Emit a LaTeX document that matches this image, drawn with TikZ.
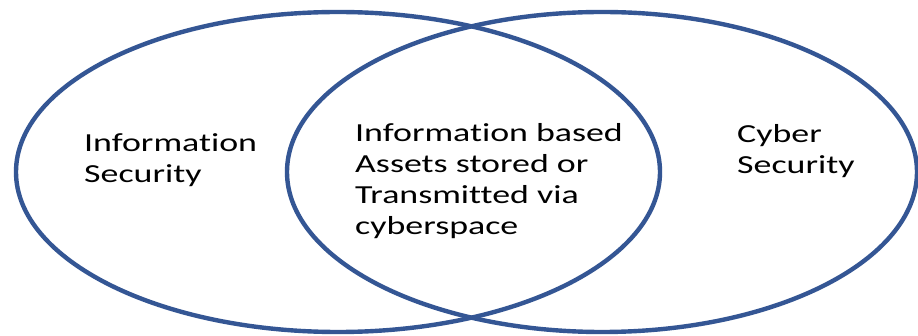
\documentclass[tikz,border=0pt]{standalone}
\usepackage{fontspec}
\setmainfont{Carlito}[FakeStretch=1.38, Ligatures={NoCommon,NoContextual}, RawFeature={-liga;-clig;-calt;-dlig}]
\usetikzlibrary{shapes.geometric}
\definecolor{ringblue}{RGB}{52,86,148}
% keeps "t" and "i" as separate letters
\newcommand{\tiapart}{t\kern0pt i}
\tikzset{
  ring/.style={ellipse, draw=ringblue, line width=4.4pt, inner sep=0pt},
  % anchored at the baseline of the last line
  label/.style={anchor=base west, align=left, inner sep=0pt,
    font=\fontsize{26}{31}\selectfont, text=black}
}
\begin{document}
\begin{tikzpicture}[x=1pt, y=-1pt]
  \useasboundingbox (0,0) rectangle (918,336);
  \fill[white] (0,0) rectangle (918,336);
  % the two overlapping sets
  \node[ring, minimum width=644pt, minimum height=320pt] (infosec) at (338,172) {};
  \node[ring, minimum width=630pt, minimum height=320pt] (cybersec) at (602,172) {};
  % set labels
  \node[label] (infotext) at (84,183) {Informa\tiapart on\\Security};
  \node[label] (overlaptext) at (355,235) {Informa\tiapart on based\\Assets stored or\\Transmitted via\\cyberspace};
  \node[label] (cybertext) at (737,174) {Cyber\\Security};
\end{tikzpicture}
\end{document}
